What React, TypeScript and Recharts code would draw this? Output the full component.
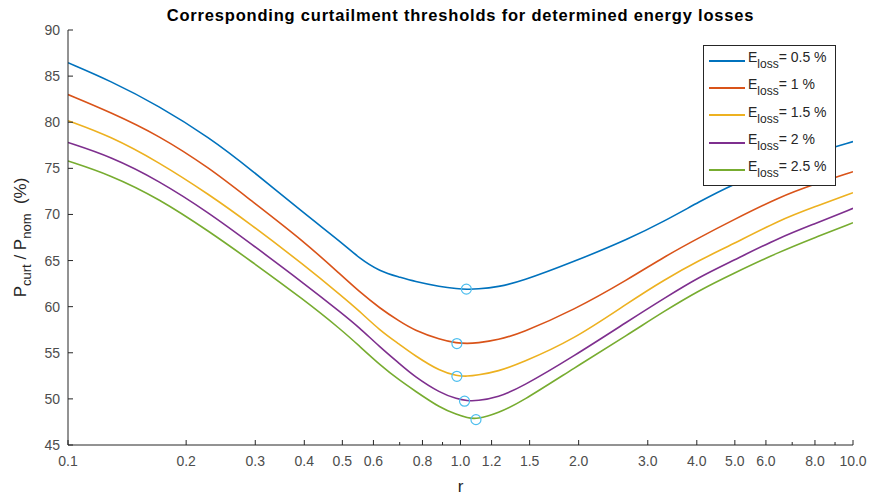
import React from 'react';
import { ComposedChart, Line, Scatter, XAxis, YAxis, Legend, Label } from 'recharts';

// ---------- data ----------
const R = [0.1, 0.128, 0.17, 0.23, 0.29, 0.4, 0.5, 0.55, 0.624, 0.7, 0.76, 0.89, 0.98, 1.04, 1.1, 1.25, 1.42, 1.94, 2.7, 3.3, 4.07, 4.9, 6.5, 8, 10];
const loss05 = [86.45, 84.5, 81.8, 78.3, 75.0, 70.1, 66.9, 65.3, 63.8, 63.2, 62.75, 62.15, 61.95, 61.88, 61.9, 62.15, 62.7, 64.85, 67.4, 69.25, 71.4, 73.2, 75.3, 76.7, 77.9];
const loss10 = [83.0, 81.1, 78.6, 75.0, 71.64, 67.05, 63.3, 61.7, 59.8, 58.4, 57.47, 56.4, 56.05, 56.0, 56.05, 56.4, 57.1, 59.6, 63.07, 65.4, 67.52, 69.3, 71.9, 73.3, 74.64];
const loss15 = [80.17, 78.5, 75.7, 72.1, 69.03, 64.5, 61.1, 59.6, 57.4, 55.9, 54.76, 52.95, 52.5, 52.45, 52.55, 53.0, 53.85, 56.4, 60.54, 62.9, 65.06, 66.7, 69.4, 70.85, 72.36];
const loss20 = [77.8, 76.3, 73.7, 70.1, 66.94, 62.5, 59.25, 57.8, 55.6, 53.8, 52.48, 50.6, 50.0, 49.8, 49.77, 50.2, 51.2, 54.6, 58.55, 60.9, 63.25, 64.9, 67.5, 69.0, 70.66];
const loss25 = [75.8, 74.3, 71.75, 68.1, 65.06, 60.72, 57.4, 55.8, 53.67, 52.0, 50.96, 48.98, 48.3, 47.95, 47.78, 48.5, 49.6, 53.3, 57.1, 59.5, 61.8, 63.5, 65.96, 67.5, 69.1];

const markerR = [1.035, 0.979, 0.979, 1.024, 1.095];
const markerP = [61.9, 56.0, 52.45, 49.75, 47.75];

const seriesKeys = ['s05', 's10', 's15', 's20', 's25'];
const seriesValues = [loss05, loss10, loss15, loss20, loss25];
const seriesLabels = ['0.5', '1', '1.5', '2', '2.5'];
const seriesColors = ['#0072BD', '#D95319', '#EDB120', '#7E2F8E', '#77AC30'];

const X_TICKS = [0.1, 0.2, 0.3, 0.4, 0.5, 0.6, 0.7, 0.8, 0.9, 1, 1.2, 1.5, 2, 3, 4, 5, 6, 7, 8, 9, 10];
const X_TICK_LABELS = ['0.1', '0.2', '0.3', '0.4', '0.5', '0.6', '', '0.8', '', '1.0', '1.2', '1.5', '2.0', '3.0', '4.0', '5.0', '6.0', '', '8.0', '', '10.0'];
const Y_TICKS = [45, 50, 55, 60, 65, 70, 75, 80, 85, 90];

const TITLE = 'Corresponding curtailment thresholds for determined energy losses';

// ---------- tables ----------
const rows = R.map((r, i) => {
  const row: Record<string, number> = { r };
  seriesKeys.forEach((k, j) => { row[k] = seriesValues[j][i]; });
  return row;
});
const markers = markerR.map((r, i) => ({ r, m: markerP[i] }));

// ---------- layout ----------
const W = 871;
const H = 500;
const MARGIN = { top: 30, right: 18, bottom: 25, left: 18 };
const Y_AXIS_W = 50;
const X_AXIS_H = 30;
const AXIS = '#262626';
const LABEL = '#4d4d4d';
const FONT = '"Liberation Sans", Arial, Helvetica, sans-serif';

const isMinor = (v: number) => X_TICK_LABELS[X_TICKS.indexOf(v)] === '';

const XTickBottom = (props: any) => {
  const { x, y, payload } = props;
  const idx = X_TICKS.indexOf(payload.value);
  const len = isMinor(payload.value) ? 3 : 5;
  return (
    <g>
      <line x1={x} x2={x} y1={y} y2={y - len} stroke={AXIS} strokeWidth={1} />
      <text x={x} y={y + 11} dy="0.71em" textAnchor="middle" fill={LABEL} fontSize={14} fontFamily={FONT}>
        {X_TICK_LABELS[idx]}
      </text>
    </g>
  );
};

const XTickTop = (props: any) => {
  const { x, y, payload } = props;
  const len = isMinor(payload.value) ? 3 : 5;
  return <line x1={x} x2={x} y1={y} y2={y + len} stroke={AXIS} strokeWidth={1} />;
};

const YTickLeft = (props: any) => {
  const { x, y, payload } = props;
  return (
    <g>
      <line x1={x} x2={x + 5} y1={y} y2={y} stroke={AXIS} strokeWidth={1} />
      <text x={x - 8} y={y} dy="0.36em" textAnchor="end" fill={LABEL} fontSize={14} fontFamily={FONT}>
        {payload.value}
      </text>
    </g>
  );
};

const YTickRight = (props: any) => {
  const { x, y } = props;
  return <line x1={x} x2={x - 5} y1={y} y2={y} stroke={AXIS} strokeWidth={1} />;
};

const Marker = (props: any) => (
  <circle cx={props.cx} cy={props.cy} r={5} fill="none" stroke="#4DBEEE" strokeWidth={1.2} />
);

const LegendBox = () => (
  <div
    style={{
      border: `1px solid ${AXIS}`,
      background: '#fff',
      padding: '1px 0 2px 0',
      fontFamily: FONT,
      color: '#262626',
      width: 131,
    }}
  >
    {seriesLabels.map((lab, i) => (
      <div key={lab} style={{ display: 'flex', alignItems: 'center', height: 27.3 }}>
        <svg width={44} height={10} style={{ display: 'block' }}>
          <line x1={5} x2={41} y1={5} y2={5} stroke={seriesColors[i]} strokeWidth={2} />
        </svg>
        <span style={{ fontSize: 14, lineHeight: '14px', whiteSpace: 'pre', position: 'relative', top: -3 }}>
          E
          <span style={{ fontSize: 12, position: 'relative', top: 6 }}>loss</span>
          {`= ${lab} %`}
        </span>
      </div>
    ))}
  </div>
);

const YLabel = (props: any) => {
  const { viewBox } = props;
  const cx = 26;
  const cy = viewBox.y + viewBox.height / 2;
  return (
    <text
      x={cx}
      y={cy}
      transform={`rotate(-90, ${cx}, ${cy})`}
      textAnchor="middle"
      fill={AXIS}
      fontSize={17}
      fontFamily={FONT}
      style={{ whiteSpace: 'pre' }}
    >
      <tspan>P</tspan>
      <tspan fontSize={13} dy={5}>curt</tspan>
      <tspan dy={-5}>{' / P'}</tspan>
      <tspan fontSize={13} dy={5}>nom</tspan>
      <tspan dy={-5}>{'  (%)'}</tspan>
    </text>
  );
};

const XLabelAndTitle = (props: any) => {
  const { viewBox } = props;
  const cx = viewBox.x + viewBox.width / 2;
  return (
    <g>
      <text x={cx} y={492} textAnchor="middle" fill={AXIS} fontSize={17} fontFamily={FONT}>
        r
      </text>
      <text
        x={cx}
        y={21}
        textAnchor="middle"
        fill="#000"
        fontSize={16.5}
        fontWeight="bold"
        letterSpacing={0.8}
        fontFamily={FONT}
      >
        {TITLE}
      </text>
    </g>
  );
};

export default function App() {
  return (
    <div style={{ width: W, height: H, background: '#fff' }}>
      <style>{'body{margin:0;background:#fff}'}</style>
      <ComposedChart width={W} height={H} data={rows} margin={MARGIN}>
        <XAxis
          xAxisId="b"
          dataKey="r"
          type="number"
          scale="log"
          domain={[0.1, 10]}
          allowDataOverflow
          ticks={X_TICKS}
          interval={0}
          tickSize={0}
          tickMargin={0}
          tickLine={false}
          tick={<XTickBottom />}
          axisLine={{ stroke: AXIS, strokeWidth: 1 }}
          height={X_AXIS_H}
        >
          <Label content={<XLabelAndTitle />} />
        </XAxis>
        <XAxis
          xAxisId="t"
          orientation="top"
          dataKey="r"
          type="number"
          scale="log"
          domain={[0.1, 10]}
          allowDataOverflow
          ticks={X_TICKS}
          interval={0}
          tickSize={0}
          tickMargin={0}
          tickLine={false}
          tick={<XTickTop />}
          axisLine={{ stroke: AXIS, strokeWidth: 1 }}
          height={0}
        />
        <YAxis
          yAxisId="l"
          type="number"
          domain={[45, 90]}
          ticks={Y_TICKS}
          interval={0}
          tickSize={0}
          tickMargin={0}
          tickLine={false}
          tick={<YTickLeft />}
          axisLine={{ stroke: AXIS, strokeWidth: 1 }}
          width={Y_AXIS_W}
          allowDataOverflow
        >
          <Label content={<YLabel />} />
        </YAxis>
        <YAxis
          yAxisId="r"
          orientation="right"
          type="number"
          domain={[45, 90]}
          ticks={Y_TICKS}
          interval={0}
          tickSize={0}
          tickMargin={0}
          tickLine={false}
          tick={<YTickRight />}
          axisLine={{ stroke: AXIS, strokeWidth: 1 }}
          width={0}
          allowDataOverflow
        />
        {seriesKeys.map((k, i) => (
          <Line
            key={k}
            xAxisId="b"
            yAxisId="l"
            dataKey={k}
            type="basis"
            stroke={seriesColors[i]}
            strokeWidth={1.6}
            dot={false}
            activeDot={false}
            isAnimationActive={false}
          />
        ))}
        <Scatter
          xAxisId="b"
          yAxisId="l"
          data={markers}
          dataKey="m"
          shape={<Marker />}
          isAnimationActive={false}
        />
        <Legend
          layout="vertical"
          align="center"
          verticalAlign="middle"
          content={<LegendBox />}
          wrapperStyle={{ left: 703, top: 45, width: 133, height: 140 }}
        />
      </ComposedChart>
    </div>
  );
}
